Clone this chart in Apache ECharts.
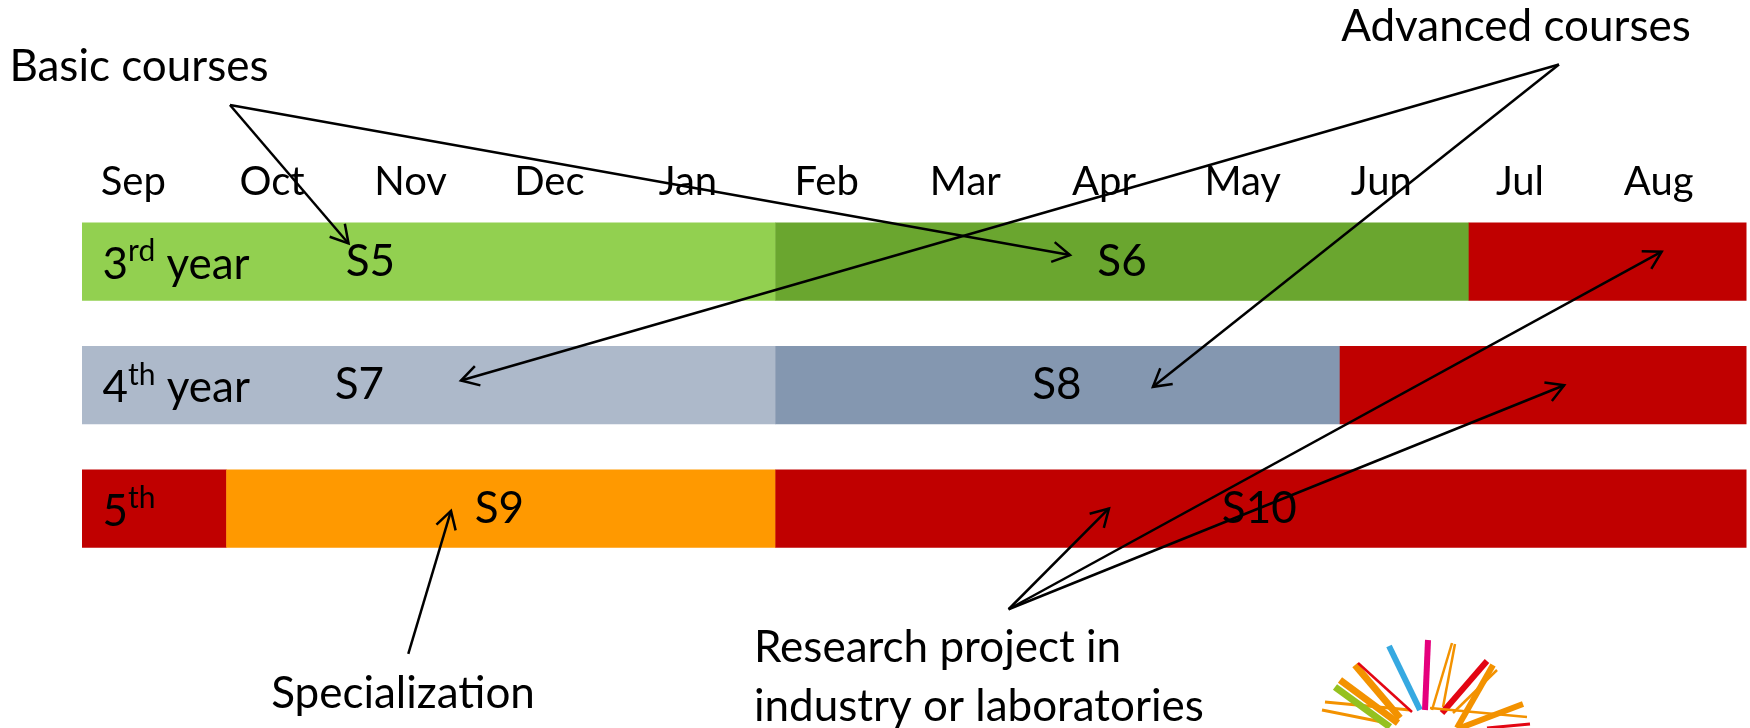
<!DOCTYPE html>
<html>
<head>
<meta charset="utf-8">
<script src="https://cdn.jsdelivr.net/npm/echarts@6/dist/echarts.min.js"></script>
<style>html,body{margin:0;padding:0;background:#fff}#c{width:1750px;height:728px}</style>
</head>
<body>
<div id="c"></div>
<script>
// ---- data ----
const months = ['Sep','Oct','Nov','Dec','Jan','Feb','Mar','Apr','May','Jun','Jul','Aug'];
const yearNum  = ['3','4','5'];
const yearSup  = ['rd','th','th'];
const yearWord = [' year',' year',''];

// timeline segments (month offsets from start of September)
const segRow   = [0, 0, 0, 1, 1, 1, 2, 2, 2];
const segStart = [0, 5, 10, 0, 5, 9.07, 0, 1.04, 5];
const segEnd   = [5, 10, 12, 5, 9.07, 12, 1.04, 5, 12];
const segKind  = ['basic3','adv3','research','basic4','adv4','research','research','spec','research'];

// semester labels: name, month anchor, row
const semName  = ['S5','S6','S7','S8','S9','S10'];
const semMonth = [2.08, 7.5, 2.0, 7.03, 3.01, 8.49];
const semRow   = [0, 0, 1, 1, 2, 2];

// callouts: text, text anchor (month,row), arrow origin, arrow targets
const calloutText   = ['Basic courses','Advanced courses','Specialization','Research project in\nindustry or laboratories'];
const calloutAnchor = [[0.411,-1.576],[10.341,-1.90],[2.315,3.50],[4.846,3.37]];
const calloutAlign  = ['center','center','center','left'];
const arrowOrigin   = [[1.067,-1.268],[10.651,-1.596],[2.353,3.177],[6.682,2.815]];
const arrowTargets  = [
  [[1.922,-0.147],[7.125,-0.053]],
  [[2.733,0.963],[7.723,1.014]],
  [[2.661,2.019]],
  [[7.406,1.999],[11.392,-0.08],[10.689,1.001]]
];

// ---- styles ----
const kindColor = {basic3:'#92D050', adv3:'#6AA62F', basic4:'#ADB9CA', adv4:'#8497B0', spec:'#FF9900', research:'#C00000'};
const FONT = 'Lato';

const barData = segRow.map((r,i)=>[segStart[i], segEnd[i], r]);
const semData = semName.map((n,i)=>[semMonth[i], semRow[i]]);
const yearData = yearNum.map((n,i)=>[0.148, i]);
const arrowData = [];
arrowTargets.forEach((ts,ci)=>ts.forEach(t=>arrowData.push([arrowOrigin[ci][0],arrowOrigin[ci][1],t[0],t[1]])));
const calloutData = calloutAnchor.map(a=>[a[0],a[1]]);

const chart = echarts.init(document.getElementById('c'), null, {renderer:'canvas'});

chart.setOption({
  animation:false,
  backgroundColor:'#fff',
  grid:{left:82, right:4, top:199.85, bottom:157.65},
  xAxis:[
    {type:'value', min:0, max:12, show:false},
    {type:'category', data:months, position:'top', boundaryGap:true,
     axisLine:{show:false}, axisTick:{show:false}, splitLine:{show:false},
     axisLabel:{color:'#000', fontFamily:FONT, fontSize:40, margin:18, verticalAlign:'middle', padding:[0,36,0,0]}}
  ],
  yAxis:{type:'value', min:-0.5, max:2.5, inverse:true, show:false},
  series:[
    {type:'custom', xAxisIndex:0, clip:false, data:barData,
     encode:{x:[0,1], y:2},
     renderItem:function(params, api){
       const p0 = api.coord([api.value(0), api.value(2)]);
       const p1 = api.coord([api.value(1), api.value(2)]);
       const h = api.size([0, 0.632])[1];
       return {type:'rect', shape:{x:p0[0], y:p0[1]-h/2, width:p1[0]-p0[0]+0.5, height:h},
               style:{fill:kindColor[segKind[params.dataIndex]]}};
     }},
    {type:'custom', xAxisIndex:0, clip:false, data:semData, z:5,
     renderItem:function(params, api){
       const p = api.coord([api.value(0), api.value(1)]);
       return {type:'text', x:p[0], y:p[1],
               style:{text:semName[params.dataIndex], fill:'#000', font:'44px '+FONT, align:'center', verticalAlign:'middle'}};
     }},
    {type:'custom', xAxisIndex:0, clip:false, data:yearData, z:5,
     renderItem:function(params, api){
       const i = params.dataIndex;
       const p = api.coord([api.value(0), api.value(1)]);
       const txt = '{n|'+yearNum[i]+'}{s|'+yearSup[i]+'}' + (yearWord[i] ? '{n|'+yearWord[i]+'}' : '');
       return {type:'text', x:p[0], y:p[1],
               style:{text:txt, align:'left', verticalAlign:'middle',
                 rich:{n:{fontSize:44, fontFamily:FONT, fill:'#000', lineHeight:50, verticalAlign:'bottom'},
                       s:{fontSize:30, fontFamily:FONT, fill:'#000', lineHeight:30, verticalAlign:'top'}}}};
     }},
    {type:'custom', xAxisIndex:0, clip:false, data:arrowData, z:10,
     renderItem:function(params, api){
       const a = api.coord([api.value(0), api.value(1)]);
       const b = api.coord([api.value(2), api.value(3)]);
       const dx=b[0]-a[0], dy=b[1]-a[1], L=Math.sqrt(dx*dx+dy*dy);
       const ux=dx/L, uy=dy/L, hl=20, ang=Math.PI/6;
       const c=Math.cos(ang), s=Math.sin(ang);
       const w1=[b[0]-hl*(ux*c-uy*s), b[1]-hl*(uy*c+ux*s)];
       const w2=[b[0]-hl*(ux*c+uy*s), b[1]-hl*(uy*c-ux*s)];
       return {type:'group', children:[
         {type:'line', shape:{x1:a[0],y1:a[1],x2:b[0],y2:b[1]}, style:{stroke:'#000', lineWidth:2.5}},
         {type:'polyline', shape:{points:[w1,b,w2]}, style:{stroke:'#000', lineWidth:2.5, fill:null}}
       ]};
     }},
    {type:'custom', xAxisIndex:0, clip:false, data:calloutData, z:10,
     renderItem:function(params, api){
       const i=params.dataIndex;
       const p = api.coord([api.value(0), api.value(1)]);
       return {type:'text', x:p[0], y:p[1],
               style:{text:calloutText[i], fill:'#000', fontSize:44, fontFamily:FONT, lineHeight:59,
                      align:calloutAlign[i], verticalAlign:'middle'}};
     }}
  ],
  graphic:[
    // decorative partial logo (bottom right)
    {type:'group', silent:true, children:[
      ['#F39200',1325,702,1410,710,3],['#F39200',1322,710,1387,723,3],
      ['#95C11F',1335,687,1390,727,7],['#F39200',1340,680,1398,723,7],
      ['#F39200',1355,665,1400,718,7],['#E30613',1358,663,1412,712,2.5],
      ['#36A9E1',1389,646,1420,710,6],['#E5007D',1428,640,1425,710,6],
      ['#F39200',1452,643,1432,710,2.5],['#F39200',1455,644,1443,707,2.5],
      ['#E30613',1487,661,1442,713,6],['#F39200',1493,665,1457,728,6],
      ['#F39200',1497,670,1453,713,2.5],['#F39200',1523,704,1460,728,6],
      ['#F39200',1430,708,1527,717,2.5],['#E30613',1487,728,1530,724,3]
    ].map(d=>({type:'line', shape:{x1:d[1],y1:d[2],x2:d[3],y2:d[4]}, style:{stroke:d[0], lineWidth:d[5]}}))}
  ]
});
</script>
</body>
</html>
